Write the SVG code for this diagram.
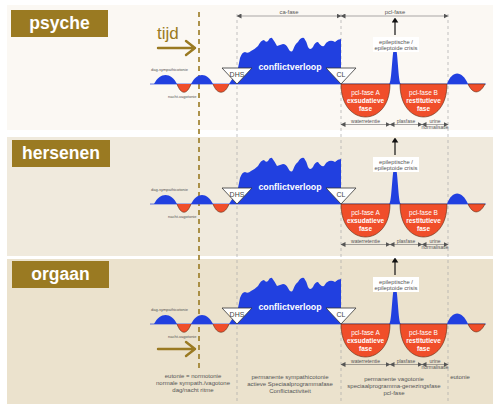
<svg xmlns="http://www.w3.org/2000/svg" xmlns:xlink="http://www.w3.org/1999/xlink" width="500" height="410" viewBox="0 0 500 410">
<style>
text{font-family:"Liberation Sans",Arial,sans-serif}
.title{font-size:17.5px;font-weight:bold;fill:#fff;text-anchor:middle}
.tbox{fill:#9a7a22}
.blue{fill:#2140e0}
.red{fill:#f04e2a;stroke:#5b2a12;stroke-width:0.6}
.tri{fill:#fff;stroke:#333;stroke-width:0.8}
.tri-t{font-size:7px;fill:#444;text-anchor:middle}
.big{font-size:8.8px;font-weight:bold;fill:#fff;text-anchor:middle}
.ph{font-size:6.5px;fill:#fff;text-anchor:middle}
.phb{font-size:6.5px;font-weight:bold;fill:#fff;text-anchor:middle}
.tiny{font-size:4px;fill:#555}
.small{font-size:5px;fill:#555;text-anchor:middle}
.lab{font-size:5.8px;fill:#555;text-anchor:middle}
.bot{font-size:6px;fill:#555;text-anchor:middle}
.dim{stroke:#555;stroke-width:0.5;fill:none;marker-start:url(#da);marker-end:url(#da)}
.vgrey{stroke:#aaa;stroke-width:0.7;stroke-dasharray:3 3}
.gold{stroke:#9a7a22;stroke-width:1.6;stroke-dasharray:5 4}
.garrow{stroke:#9a7a22;stroke-width:2.4;fill:none;stroke-linecap:round;stroke-linejoin:round}
</style>
<defs>
<marker id="da" viewBox="0 0 6 6" refX="3" refY="3" markerWidth="5" markerHeight="5" orient="auto-start-reverse" markerUnits="userSpaceOnUse">
<path d="M0,0 L6,3 L0,6 Z" fill="#555"/>
</marker>
<marker id="ba" viewBox="0 0 6 8" refX="3" refY="4" markerWidth="5" markerHeight="7" orient="auto" markerUnits="userSpaceOnUse">
<path d="M0,0 L6,4 L0,8 Z" fill="#111"/>
</marker>
<g id="wave">
<line x1="150" y1="84" x2="486" y2="84" stroke="#2140e0" stroke-width="0.7"/>
<path class="blue" d="M154,84 C160,72 171,72 177,84 Z"/>
<path class="red" d="M177,84 C181,95 187,95 191,84" />
<path class="blue" d="M191,84 C197,72 207,72 213,84 Z"/>
<path class="red" d="M213,84 C217,95 225,95 229,84"/>
<path class="blue" d="M229,84 C232,79 235,76 238,68 L240,58 Q242,52 245,52 Q248,54 251,51 Q255,49 258,46 Q261,40 264,40 Q266,43 268,41 Q270,37 272,38 Q275,42 277,46 Q280,45 283,44 Q286,44 288,48 Q291,54 293,50 Q295,44 298,42 Q301,37 304,38 Q307,42 308,47 Q310,51 313,47 Q315,42 318,42 Q321,47 324,46 Q326,42 329,41 Q332,40 335,42 Q338,39 341,39 L341,84 Z"/>
<path class="red" d="M341,84 C341,128 390,128 390,84 Z"/>
<path class="blue" d="M389,84 C392,84 392,46 395,46 C398,46 398,84 401,84 Z"/>
<path class="red" d="M400,84 C400,128 447,128 447,84 Z"/>
<path class="blue" d="M447,84 C452,70 462,70 468,84 Z"/>
<path class="red" d="M468,84 C473,95 480,94 485,84 Z"/>
<path class="tri" d="M222,68 L252,68 L237,84 Z"/>
<path class="tri" d="M326,68 L356,68 L341,84 Z"/>
<line x1="395" y1="35" x2="395" y2="20" stroke="#111" stroke-width="1.2" marker-end="url(#ba)"/>
<rect x="373" y="37" width="46" height="15" fill="#fff"/>
<path class="dim" d="M343,124.5 L388,124.5"/>
<path class="dim" d="M392,124.5 L420,124.5"/>
<path class="dim" d="M424,124.5 L446,124.5"/>
</g>
</defs>

<g id="panels">
<rect x="7" y="5" width="486" height="125" fill="#fbf8f3"/>
<rect x="7" y="137" width="486" height="119" fill="#f0eadd"/>
<rect x="7" y="259" width="486" height="145" fill="#ebe2cd"/>
</g>

<g id="guides">
<line class="vgrey" x1="237" y1="14" x2="237" y2="404"/>
<line class="vgrey" x1="341" y1="14" x2="341" y2="404"/>
<line class="vgrey" x1="448" y1="14" x2="448" y2="404"/>
<line class="gold" x1="199" y1="12" x2="199" y2="370"/>
</g>

<g id="connectors">
<path class="dim" d="M239,16 L339,16"/>
<path class="dim" d="M343,16 L446,16"/>
<path class="garrow" d="M158,48 L195,48 M186,41 L195,48 L186,55"/>
<path class="garrow" d="M158,349 L195,349 M186,342 L195,349 L186,356"/>
</g>

<g id="panel-psyche">
<rect class="tbox" x="11" y="10" width="97" height="27"/>
<text class="title" x="59.5" y="29">psyche</text>
<text x="157" y="39" font-size="17" fill="#9a7a22">tijd</text>
<text class="lab" x="289" y="14" font-size="6px">ca-fase</text>
<text class="lab" x="395" y="14">pcl-fase</text>
<use xlink:href="#wave" href="#wave"/>
<text class="tiny" x="151" y="71">dag-sympathicotonie</text>
<text class="tiny" x="168" y="97.5">nacht-vagotonie</text>
<text class="tri-t" x="237" y="76.5">DHS</text>
<text class="tri-t" x="341" y="76.5">CL</text>
<text class="big" x="290" y="70">conflictverloop</text>
<text class="ph" x="365.5" y="95">pcl-fase A</text>
<text class="phb" x="365.5" y="103">exsudatieve</text>
<text class="phb" x="365.5" y="111">fase</text>
<text class="ph" x="423.5" y="95">pcl-fase B</text>
<text class="phb" x="423.5" y="103">restitutieve</text>
<text class="phb" x="423.5" y="111">fase</text>
<text class="lab" x="396" y="43.5">epileptische /</text>
<text class="lab" x="396" y="50">epileptoide crisis</text>
<text class="small" x="365.5" y="122.5">waterretentie</text>
<text class="small" x="406" y="122.5">plasfase</text>
<text class="small" x="435" y="122.5">urine</text>
<text class="small" x="435" y="129">normalisatie</text>
</g>

<g id="panel-hersenen">
<rect class="tbox" x="12" y="140" width="98" height="27"/>
<text class="title" x="61" y="159">hersenen</text>
<use xlink:href="#wave" href="#wave" y="120"/>
<text class="tiny" x="151" y="191">dag-sympathicotonie</text>
<text class="tiny" x="168" y="217.5">nacht-vagotonie</text>
<text class="tri-t" x="237" y="196.5">DHS</text>
<text class="tri-t" x="341" y="196.5">CL</text>
<text class="big" x="290" y="190">conflictverloop</text>
<text class="ph" x="365.5" y="215">pcl-fase A</text>
<text class="phb" x="365.5" y="223">exsudatieve</text>
<text class="phb" x="365.5" y="231">fase</text>
<text class="ph" x="423.5" y="215">pcl-fase B</text>
<text class="phb" x="423.5" y="223">restitutieve</text>
<text class="phb" x="423.5" y="231">fase</text>
<text class="lab" x="396" y="163.5">epileptische /</text>
<text class="lab" x="396" y="170">epileptoide crisis</text>
<text class="small" x="365.5" y="242.5">waterretentie</text>
<text class="small" x="406" y="242.5">plasfase</text>
<text class="small" x="435" y="242.5">urine</text>
<text class="small" x="435" y="249">normalisatie</text>
</g>

<g id="panel-orgaan">
<rect class="tbox" x="12" y="261" width="97" height="27"/>
<text class="title" x="60.5" y="280">orgaan</text>
<use xlink:href="#wave" href="#wave" y="240"/>
<text class="tiny" x="151" y="311">dag-sympathicotonie</text>
<text class="tiny" x="168" y="337.5">nacht-vagotonie</text>
<text class="tri-t" x="237" y="316.5">DHS</text>
<text class="tri-t" x="341" y="316.5">CL</text>
<text class="big" x="290" y="310">conflictverloop</text>
<text class="ph" x="365.5" y="335">pcl-fase A</text>
<text class="phb" x="365.5" y="343">exsudatieve</text>
<text class="phb" x="365.5" y="351">fase</text>
<text class="ph" x="423.5" y="335">pcl-fase B</text>
<text class="phb" x="423.5" y="343">restitutieve</text>
<text class="phb" x="423.5" y="351">fase</text>
<text class="lab" x="396" y="283.5">epileptische /</text>
<text class="lab" x="396" y="290">epileptoide crisis</text>
<text class="small" x="365.5" y="362.5">waterretentie</text>
<text class="small" x="406" y="362.5">plasfase</text>
<text class="small" x="435" y="362.5">urine</text>
<text class="small" x="435" y="369">normalisatie</text>
<text class="bot" x="193" y="378">eutonie = normotonie</text>
<text class="bot" x="193" y="385">normale sympath./vagotone</text>
<text class="bot" x="193" y="392">dag/nacht ritme</text>
<text class="bot" x="290" y="379">permanente sympathicotonie</text>
<text class="bot" x="290" y="386">actieve Speciaalprogrammafase</text>
<text class="bot" x="290" y="393">Conflictactiviteit</text>
<text class="bot" x="394" y="381">permanente vagotonie</text>
<text class="bot" x="394" y="388">speciaalprogramma-genezingsfase</text>
<text class="bot" x="394" y="395">pcl-fase</text>
<text class="bot" x="460" y="379">eutonie</text>
</g>
</svg>
